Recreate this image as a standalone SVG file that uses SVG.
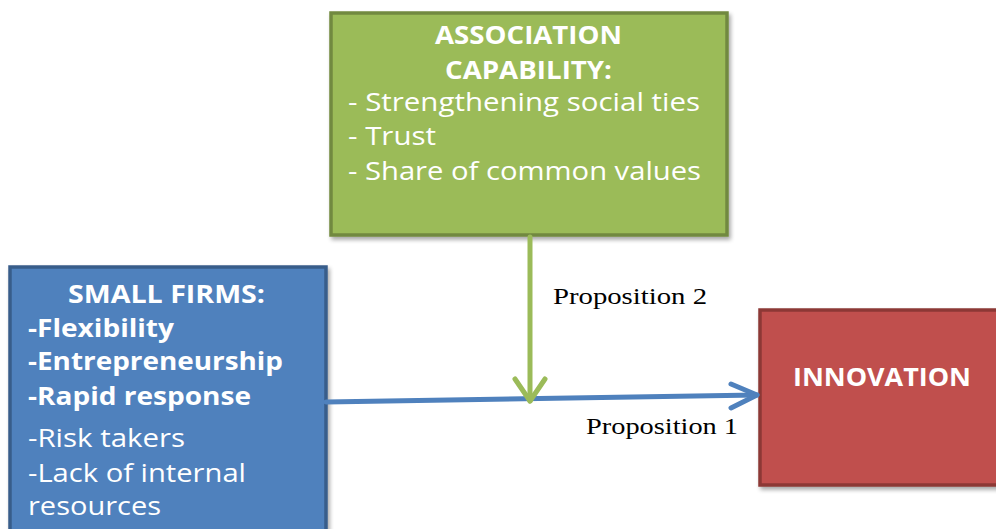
<svg xmlns="http://www.w3.org/2000/svg" width="996" height="529" viewBox="0 0 996 529">
  <defs>
    <filter id="shadow" x="-5%" y="-5%" width="115%" height="115%">
      <feGaussianBlur in="SourceAlpha" stdDeviation="2"/>
      <feOffset dx="2" dy="3" result="b"/>
      <feComponentTransfer><feFuncA type="linear" slope="0.35"/></feComponentTransfer>
      <feMerge><feMergeNode/><feMergeNode in="SourceGraphic"/></feMerge>
    </filter>
  </defs>
  <style>
    .box-green { fill: #9BBB59; stroke: #71893F; stroke-width: 3.5; }
    .box-blue { fill: #4F81BD; stroke: #385D8A; stroke-width: 3.5; }
    .box-red { fill: #C0504D; stroke: #8C3836; stroke-width: 3.5; }
    .t { font-family: "Open Sans", "Liberation Sans", sans-serif; fill: #FFFFFF; font-size: 25px; }
    .b { font-weight: bold; }
    .lbl { font-family: "Liberation Serif", serif; fill: #000000; font-size: 23px; }
    .conn-green { stroke: #9BBB59; stroke-width: 5; fill: none; stroke-linecap: round; stroke-linejoin: round; }
    .conn-blue { stroke: #4F81BD; stroke-width: 5; fill: none; stroke-linecap: round; stroke-linejoin: round; }
  </style>
  <rect width="996" height="529" fill="#FFFFFF"/>

  <g id="association-capability">
    <rect class="box-green" x="331" y="13" width="396" height="222" filter="url(#shadow)"/>
    <text class="t b" x="435" y="44" textLength="187" lengthAdjust="spacingAndGlyphs">ASSOCIATION</text>
    <text class="t b" x="445" y="79" textLength="167" lengthAdjust="spacingAndGlyphs">CAPABILITY:</text>
    <text class="t" x="348" y="111" textLength="352" lengthAdjust="spacingAndGlyphs">- Strengthening social ties</text>
    <text class="t" x="348" y="145" textLength="88" lengthAdjust="spacingAndGlyphs">- Trust</text>
    <text class="t" x="348" y="180" textLength="353" lengthAdjust="spacingAndGlyphs">- Share of common values</text>
  </g>

  <g id="small-firms">
    <rect class="box-blue" x="10" y="267" width="316" height="280" filter="url(#shadow)"/>
    <text class="t b" x="68" y="303" textLength="197" lengthAdjust="spacingAndGlyphs">SMALL FIRMS:</text>
    <text class="t b" x="28" y="337" textLength="146" lengthAdjust="spacingAndGlyphs">-Flexibility</text>
    <text class="t b" x="28" y="370" textLength="255" lengthAdjust="spacingAndGlyphs">-Entrepreneurship</text>
    <text class="t b" x="28" y="405" textLength="223" lengthAdjust="spacingAndGlyphs">-Rapid response</text>
    <text class="t" x="28" y="447" textLength="157" lengthAdjust="spacingAndGlyphs">-Risk takers</text>
    <text class="t" x="28" y="482" textLength="218" lengthAdjust="spacingAndGlyphs">-Lack of internal</text>
    <text class="t" x="28" y="515" textLength="133" lengthAdjust="spacingAndGlyphs">resources</text>
  </g>

  <g id="innovation">
    <rect class="box-red" x="760" y="310" width="250" height="175" filter="url(#shadow)"/>
    <text class="t b" x="793" y="386" textLength="178" lengthAdjust="spacingAndGlyphs">INNOVATION</text>
  </g>

  <g id="connectors">
    <path class="conn-blue" d="M326 402 L757 395"/>
    <path class="conn-blue" d="M731 384 L757 395 L731 408"/>
    <path class="conn-green" d="M530 237 L530 401"/>
    <path class="conn-green" d="M515 379 L530 401 L545 379"/>
    <text class="lbl" x="553" y="304" textLength="154" lengthAdjust="spacingAndGlyphs">Proposition 2</text>
    <text class="lbl" x="586" y="434" textLength="152" lengthAdjust="spacingAndGlyphs">Proposition 1</text>
  </g>
</svg>
